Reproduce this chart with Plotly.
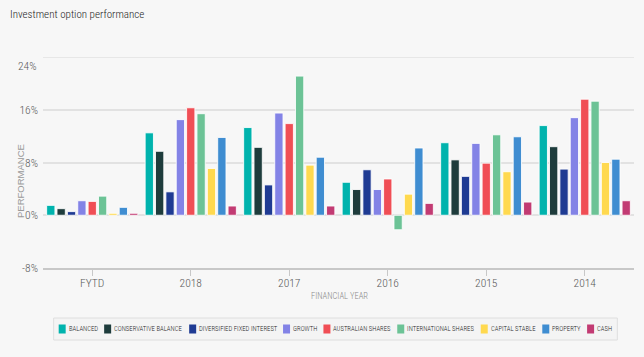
import plotly.graph_objects as go

years = ["FYTD", "2018", "2017", "2016", "2015", "2014"]
series_names = ["BALANCED", "CONSERVATIVE BALANCE", "DIVERSIFIED FIXED INTEREST", "GROWTH",
                "AUSTRALIAN SHARES", "INTERNATIONAL SHARES", "CAPITAL STABLE", "PROPERTY", "CASH"]
balanced = [1.5, 12.5, 13.3, 5.0, 11.0, 13.6]
conservative_balance = [1.0, 9.7, 10.3, 3.9, 8.4, 10.4]
diversified_fixed_interest = [0.55, 3.55, 4.6, 6.9, 5.9, 7.0]
growth = [2.2, 14.5, 15.5, 3.9, 10.9, 14.8]
australian_shares = [2.1, 16.3, 13.9, 5.5, 7.9, 17.6]
international_shares = [2.9, 15.4, 21.1, -2.2, 12.2, 17.3]
capital_stable = [0.3, 7.1, 7.6, 3.2, 6.6, 8.0]
property_ = [1.2, 11.8, 8.8, 10.2, 11.9, 8.5]
cash = [0.3, 1.4, 1.4, 1.8, 2.0, 2.2]
y_ticks = [-8, 0, 8, 16, 24]
y_tick_labels = ["-8%", "0%", "8%", "16%", "24%"]

series_values = [balanced, conservative_balance, diversified_fixed_interest, growth,
                 australian_shares, international_shares, capital_stable, property_, cash]
colors = ["#00b3ad", "#1e3c3c", "#1f3b93", "#8383e6", "#f04e55",
          "#6cc396", "#ffd94f", "#3f8dd1", "#c23b73"]

FONT = "Roboto Condensed, DejaVu Sans Condensed, Liberation Sans, Arial, sans-serif"

W, H = 644, 357
ML, MR, MT, MB = 43, 10, 57, 89
PW, PH = W - ML - MR, H - MT - MB


def px_x(px):
    return (px - ML) / PW


def px_y(py):
    return (H - MB - py) / PH


fig = go.Figure()
for name, vals, col in zip(series_names, series_values, colors):
    fig.add_trace(go.Bar(
        x=years, y=vals, name=name,
        marker=dict(color=col, line=dict(color="rgba(255,255,255,0.85)", width=1)),
    ))

# ---- custom one-row legend (swatch + label), laid out from estimated text widths
CW = {'A': 0.652, 'B': 0.623, 'C': 0.652, 'D': 0.656, 'E': 0.568, 'F': 0.553, 'G': 0.682,
      'H': 0.714, 'I': 0.272, 'L': 0.538, 'M': 0.874, 'N': 0.714, 'O': 0.688, 'P': 0.63,
      'R': 0.615, 'S': 0.594, 'T': 0.597, 'U': 0.649, 'V': 0.637, 'W': 0.888, 'X': 0.627,
      'Y': 0.6, ' ': 0.248}
LEG_FS = 6.7
COND = 0.87
SW_W, SW_H, G1, G2 = 7, 9, 3, 6
LEG_CY = 329


def text_w(s):
    return sum(CW.get(c, 0.6) for c in s) * LEG_FS * COND


widths = [SW_W + G1 + text_w(n) for n in series_names]
total = sum(widths) + G2 * (len(widths) - 1)
x0 = (ML + PW / 2) - total / 2 - 3
shapes = [dict(type="rect", xref="paper", yref="paper",
               x0=px_x(x0 - 5), x1=px_x(x0 + total + 5),
               y0=px_y(LEG_CY - 11), y1=px_y(LEG_CY + 11),
               line=dict(color="#dedede", width=1), fillcolor="#f4f4f4", layer="below")]
annotations = []
cx = x0
for name, col, w in zip(series_names, colors, widths):
    shapes.append(dict(type="rect", xref="paper", yref="paper",
                       x0=px_x(cx), x1=px_x(cx + SW_W),
                       y0=px_y(LEG_CY - SW_H / 2), y1=px_y(LEG_CY + SW_H / 2),
                       line=dict(width=0), fillcolor=col))
    annotations.append(dict(text=name, xref="paper", yref="paper",
                            x=px_x(cx + SW_W + G1), y=px_y(LEG_CY), xanchor="left",
                            yanchor="middle", showarrow=False, xshift=-2,
                            font=dict(family=FONT, size=LEG_FS, color="#1e1e1e", weight=300)))
    cx += w + G2

annotations += [
    dict(text="PERFORMANCE", xref="paper", yref="paper", x=px_x(20), y=px_y(181),
         xanchor="center", yanchor="middle", textangle=-90, showarrow=False,
         font=dict(family="Liberation Sans, Arial, sans-serif", size=9.5, color="#9a9a9a")),
    dict(text="FINANCIAL YEAR", xref="paper", yref="paper", x=px_x(339), y=px_y(296),
         xanchor="center", yanchor="middle", showarrow=False,
         font=dict(family=FONT, size=8.5, color="#8a8a8a", weight=300)),
    # top tick label sits a little below its gridline, as in the reference
    dict(text=y_tick_labels[-1], xref="paper", yref="y", x=0, y=y_ticks[-1],
         xanchor="right", yanchor="middle", xshift=-4, yshift=-9, showarrow=False,
         font=dict(family=FONT, size=11.5, color="#5a5a5a", weight=300)),
]

fig.update_layout(
    width=W, height=H,
    paper_bgcolor="#f7f7f7", plot_bgcolor="#f7f7f7",
    margin=dict(l=ML, r=MR, t=MT, b=MB),
    barmode="group", bargap=0.053, bargroupgap=0.2,
    font=dict(family=FONT, color="#5a5a5a", size=11, weight=300),
    title=dict(text="Investment option performance", x=10 / W, xanchor="left",
               xref="container", yref="container", y=1 - 14.5 / H, yanchor="middle",
               font=dict(family=FONT, size=11, color="#1e1e1e", weight=300)),
    showlegend=False,
    xaxis=dict(showline=True, linecolor="#c8c8c8", linewidth=2,
               ticks="outside", ticklen=6, tickcolor="#c8c8c8", tickwidth=1,
               ticklabelstandoff=-3,
               tickfont=dict(size=11.5, color="#5a5a5a", weight=300), showgrid=False),
    yaxis=dict(range=[-8, 24], tickvals=y_ticks[:-1], ticktext=y_tick_labels[:-1],
               showgrid=True, gridcolor="#e2e2e2", gridwidth=1.5,
               zeroline=True, zerolinecolor="#e2e2e2", zerolinewidth=1.5,
               tickfont=dict(size=11.5, color="#5a5a5a", weight=300), ticks="", ticklabelstandoff=4),
    shapes=shapes + [dict(type="line", xref="paper", yref="y", x0=0, x1=1,
                          y0=y_ticks[-1], y1=y_ticks[-1],
                          line=dict(color="#e2e2e2", width=1.5), layer="below")],
    annotations=annotations,
)

fig.write_html("out.html", config={"displayModeBar": False},
               post_script="document.body.style.margin='0';")
